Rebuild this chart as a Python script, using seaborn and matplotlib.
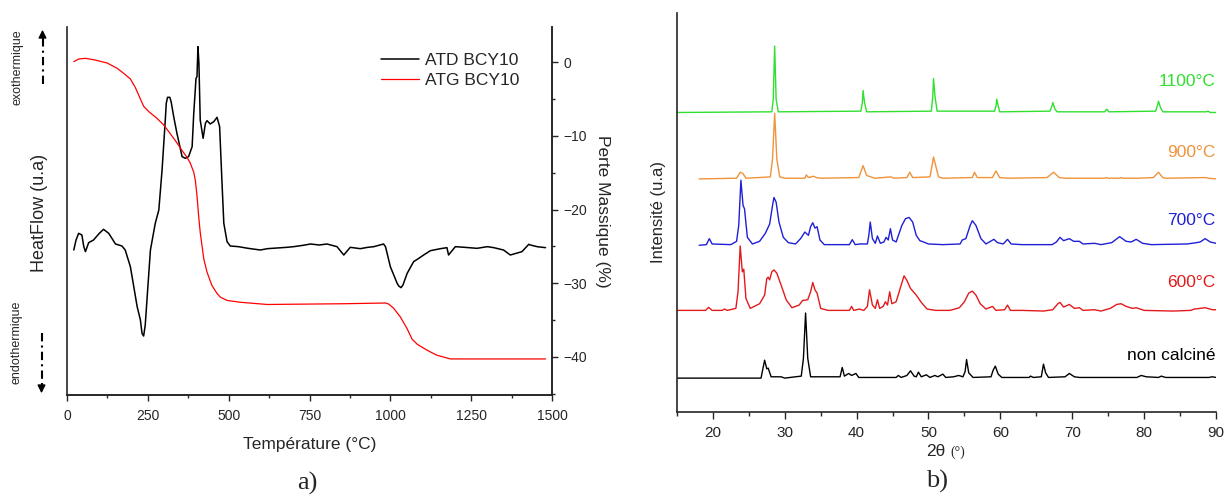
import numpy as np
import pandas as pd
import matplotlib
matplotlib.use("Agg")
import matplotlib.pyplot as plt
from matplotlib.lines import Line2D
from matplotlib.ticker import MultipleLocator
import seaborn as sns

# ---- a) ATD / ATG -------------------------------------------------------
atd_T = [21, 28, 36, 46, 52, 57, 67, 82, 100, 113, 129, 150, 170, 180, 196, 217, 227, 232,
         237, 242, 248, 258, 273, 284, 294, 304, 307, 311, 318, 322, 330, 340, 356, 366, 376,
         387, 392, 399, 402, 405, 408, 412, 421, 428, 433, 443, 454, 464, 472, 479, 485, 495,
         505, 530, 560, 598, 620, 650, 680, 701, 730, 753, 780, 804, 835, 856, 876, 907, 930,
         949, 979, 985, 1000, 1021, 1026, 1033, 1039, 1052, 1072, 1088, 1103, 1124, 1155,
         1175, 1180, 1201, 1230, 1268, 1300, 1320, 1350, 1371, 1407, 1428, 1433, 1454, 1480]
atd_h = [-0.10, 0.20, 0.40, 0.35, 0.00, -0.15, 0.12, 0.20, 0.40, 0.52, 0.40, 0.08, 0.02,
         -0.10, -0.60, -1.80, -2.20, -2.60, -2.68, -2.35, -1.50, -0.10, 0.70, 1.10, 2.30,
         3.80, 4.30, 4.48, 4.48, 4.35, 3.90, 3.40, 2.70, 2.65, 2.70, 3.00, 4.00, 5.05, 5.10,
         6.00, 5.50, 3.80, 3.25, 3.70, 3.78, 3.68, 3.75, 3.88, 3.60, 2.00, 0.70, 0.15, 0.02,
         0.00, -0.05, -0.10, -0.06, -0.04, -0.02, 0.00, 0.04, 0.08, 0.05, 0.08, 0.00, -0.25,
         -0.02, -0.06, -0.02, 0.00, 0.08, 0.00, -0.60, -1.10, -1.18, -1.23, -1.15, -0.80,
         -0.45, -0.35, -0.25, -0.12, -0.06, -0.03, -0.25, 0.00, -0.02, -0.05, 0.00, -0.03,
         -0.10, -0.25, -0.15, 0.07, 0.05, 0.00, -0.03]

atg_T = [21, 36, 57, 82, 124, 155, 175, 196, 211, 227, 237, 253, 278, 299, 320, 340, 356,
         371, 381, 392, 397, 402, 407, 412, 423, 433, 448, 464, 474, 495, 536, 619, 856, 985,
         995, 1010, 1031, 1052, 1067, 1083, 1113, 1144, 1186, 1480]
atg_m = [0.09, 0.45, 0.54, 0.36, -0.09, -0.81, -1.49, -2.26, -3.39, -4.98, -5.97, -6.70,
         -7.60, -8.51, -9.73, -10.95, -11.99, -12.90, -13.67, -14.93, -16.06, -18.1, -20.8,
         -23.1, -26.7, -28.5, -30.3, -31.4, -31.9, -32.35, -32.6, -32.9, -32.8, -32.7, -32.85,
         -33.4, -34.6, -36.2, -37.6, -38.3, -39.1, -39.8, -40.3, -40.3]

# ---- b) DRX -------------------------------------------------------------
labels = ["non calciné", "600°C", "700°C", "900°C", "1100°C"]
colors = ["black", "#e31a1c", "#1f1fd6", "#f0933a", "#2fe02f"]

tt_nc = [15, 26.7, 27.2, 27.5, 27.7, 28.1, 29.5, 30, 31.5, 32.3, 32.6, 32.9, 33.2, 33.6, 37.7,
         38.0, 38.3, 38.9, 39.3, 39.9, 40.3, 45.5, 45.8, 46.2, 47.0, 47.5, 48.0, 48.3, 48.6,
         49.0, 49.7, 50.2, 50.9, 51.3, 52.0, 52.4, 53.5, 54.2, 54.8, 55.1, 55.3, 55.6, 56.2,
         58.7, 59.0, 59.3, 59.7, 60.2, 64.0, 64.2, 64.6, 65.7, 66.0, 66.3, 66.7, 69.0, 69.6,
         70.3, 71, 79, 79.6, 80.3, 82.0, 82.4, 83, 89, 89.5, 90]
I_nc = [0, 0, 0.27, 0.14, 0.15, 0.02, 0.02, 0, 0.02, 0.03, 0.3, 0.98, 0.3, 0.02, 0.02,
        0.16, 0.03, 0.07, 0.04, 0.07, 0.01, 0.01, 0.04, 0.01, 0.04, 0.11, 0.03, 0.02, 0.09,
        0.02, 0.05, 0.01, 0.04, 0.02, 0.06, 0.01, 0.02, 0.04, 0.02, 0.1, 0.28, 0.08, 0.01,
        0.02, 0.12, 0.18, 0.06, 0.01, 0.01, 0.03, 0.01, 0.02, 0.21, 0.08, 0.01, 0.02, 0.07,
        0.02, 0.01, 0.01, 0.04, 0.02, 0.01, 0.03, 0.01, 0.01, 0.02, 0.01]

tt_600 = [15, 19.0, 19.4, 19.9, 21.3, 21.6, 22.0, 23.2, 23.5, 23.8, 24.1, 24.3, 24.6, 25.2,
          26.5, 27.2, 27.5, 27.7, 27.9, 28.2, 28.5, 28.9, 29.5, 30.2, 31, 32, 32.5, 33.2, 33.6,
          33.9, 34.2, 34.5, 35.0, 36, 39.0, 39.3, 39.6, 40.4, 41, 41.5, 41.8, 42.2, 42.6, 42.9,
          43.2, 43.7, 44.0, 44.3, 44.6, 44.9, 45.5, 46.2, 46.6, 47.0, 47.5, 48.3, 49.0, 49.8,
          51, 53, 54.3, 55.0, 55.6, 56.1, 56.6, 57.2, 58, 58.9, 59.4, 60.6, 61.0, 61.4, 63,
          66, 67.3, 68.0, 68.3, 68.8, 69.6, 70.3, 71.0, 71.5, 73.1, 74, 75.3, 76.2, 76.8, 77.5,
          78.4, 78.9, 80, 84, 86.5, 87, 88.5, 89.5, 90]
I_600 = [0.02, 0.02, 0.065, 0.02, 0.02, 0.04, 0.02, 0.05, 0.3, 0.99, 0.6, 0.64, 0.2, 0.05,
         0.12, 0.25, 0.5, 0.52, 0.48, 0.6, 0.63, 0.58, 0.4, 0.18, 0.06, 0.1, 0.17, 0.18, 0.3,
         0.44, 0.33, 0.28, 0.05, 0.02, 0.02, 0.08, 0.02, 0.04, 0.02, 0.08, 0.33, 0.1, 0.05,
         0.18, 0.05, 0.08, 0.15, 0.1, 0.3, 0.12, 0.15, 0.4, 0.54, 0.47, 0.35, 0.25, 0.14, 0.04,
         0.02, 0.02, 0.06, 0.15, 0.28, 0.31, 0.25, 0.12, 0.04, 0.08, 0.02, 0.03, 0.1, 0.02,
         0.02, 0.01, 0.03, 0.12, 0.14, 0.07, 0.11, 0.05, 0.06, 0.02, 0.03, 0.01, 0.05, 0.11,
         0.12, 0.08, 0.05, 0.06, 0.02, 0.01, 0.02, 0.04, 0.06, 0.03, 0.03]

tt_700 = [18.1, 19.1, 19.5, 19.9, 22.5, 23.3, 23.6, 23.9, 24.2, 24.4, 24.8, 25.5, 26.5, 27.3,
          27.9, 28.3, 28.5, 28.8, 29.2, 29.8, 30.5, 31.5, 32.2, 32.8, 33.3, 33.6, 33.9, 34.2,
          34.5, 34.9, 35.5, 39.0, 39.4, 39.8, 40.5, 41.5, 41.7, 41.9, 42.2, 42.6, 42.9, 43.3,
          43.8, 44.1, 44.4, 44.7, 45.0, 45.5, 46.3, 46.8, 47.3, 47.8, 48.3, 48.8, 49.3, 50, 52,
          54.4, 54.7, 55.2, 55.8, 56.1, 56.6, 57.3, 58, 59.1, 59.6, 60.4, 61.0, 61.5, 63, 67.2,
          67.8, 68.3, 68.8, 69.6, 70.2, 71.0, 71.5, 73.1, 74, 75.5, 76.6, 77.5, 78.2, 78.9,
          79.8, 81, 86, 87.3, 87.8, 88.5, 89.2, 90]
I_700 = [0, 0.01, 0.1, 0.02, 0.01, 0.06, 0.3, 0.98, 0.6, 0.55, 0.12, 0.02, 0.06, 0.18, 0.32,
         0.6, 0.72, 0.65, 0.35, 0.12, 0.04, 0.02, 0.1, 0.2, 0.15, 0.28, 0.34, 0.26, 0.28, 0.08,
         0.01, 0.01, 0.085, 0.01, 0.02, 0.02, 0.15, 0.35, 0.1, 0.03, 0.14, 0.03, 0.05, 0.12,
         0.08, 0.25, 0.08, 0.05, 0.3, 0.4, 0.42, 0.35, 0.15, 0.07, 0.05, 0.02, 0.01, 0.02,
         0.08, 0.1, 0.3, 0.37, 0.3, 0.1, 0.02, 0.09, 0.04, 0.02, 0.09, 0.02, 0.01, 0.01, 0.05,
         0.12, 0.07, 0.1, 0.06, 0.06, 0.02, 0.03, 0.01, 0.04, 0.13, 0.06, 0.05, 0.09, 0.03,
         0.01, 0.02, 0.04, 0.05, 0.1, 0.05, 0.03]

tt_900 = [18.1, 23.3, 23.8, 24.2, 24.6, 28.0, 28.3, 28.6, 28.9, 29.3, 30, 32.8, 33.0, 33.3,
          34.0, 34.4, 35, 40.3, 40.9, 41.4, 42.0, 42.5, 44.8, 45.2, 47.0, 47.4, 47.8, 50.2,
          50.5, 50.7, 51.0, 51.4, 52, 56.1, 56.4, 56.8, 58.9, 59.4, 59.9, 61, 66.5, 67.4, 68.2,
          69, 74.5, 74.7, 75.0, 76.6, 76.8, 77, 79.2, 81.3, 82.0, 82.6, 83, 88.5, 89, 90]
I_900 = [0, 0.01, 0.1, 0.08, 0.01, 0.03, 0.3, 0.99, 0.3, 0.03, 0.01, 0.01, 0.06, 0.02, 0.04,
         0.02, 0.01, 0.02, 0.2, 0.05, 0.03, 0.01, 0.03, 0.01, 0.02, 0.1, 0.02, 0.03, 0.2, 0.33,
         0.2, 0.03, 0.01, 0.02, 0.1, 0.02, 0.02, 0.12, 0.02, 0.01, 0.02, 0.1, 0.02, 0.01, 0.01,
         0.02, 0.01, 0.01, 0.02, 0.01, 0.01, 0.02, 0.1, 0.02, 0.01, 0.02, 0.01, 0]

tt_1100 = [15, 28.2, 28.4, 28.6, 28.8, 29.1, 40.6, 40.8, 40.9, 41.1, 41.4, 50.4, 50.6, 50.7,
           50.9, 51.2, 59.2, 59.4, 59.5, 59.7, 59.9, 66.9, 67.2, 67.3, 67.6, 67.9, 74.5, 74.8,
           75.1, 81.6, 81.9, 82.0, 82.3, 82.6, 88.6, 88.9, 89.2, 90]
I_1100 = [0, 0.01, 0.2, 1.0, 0.2, 0.01, 0.02, 0.15, 0.33, 0.15, 0.01, 0.02, 0.25, 0.51, 0.25,
          0.02, 0.02, 0.1, 0.2, 0.1, 0.01, 0.02, 0.1, 0.15, 0.05, 0.01, 0.01, 0.05, 0.01, 0.02,
          0.12, 0.17, 0.07, 0.01, 0.01, 0.02, 0, 0]

sns.set_style("ticks")
plt.rcParams["font.family"] = ["Liberation Sans", "DejaVu Sans"]

fig = plt.figure(figsize=(12.27, 4.95), dpi=100)

# ---------- panel a ----------
ax1 = fig.add_axes([0.0546, 0.202, 0.3953, 0.7435])
ax2 = ax1.twinx()

df_atd = pd.DataFrame({"T": atd_T, "h": atd_h})
df_atg = pd.DataFrame({"T": atg_T, "m": atg_m})
sns.lineplot(data=df_atd, x="T", y="h", ax=ax1, color="black", lw=1.1, sort=False,
             estimator=None, label="ATD BCY10", legend=False)
sns.lineplot(data=df_atg, x="T", y="m", ax=ax2, color="red", lw=0.9, sort=False,
             estimator=None, label="ATG BCY10", legend=False)

ax1.set_xlim(0, 1500)
ax1.set_ylim(-4.45, 6.59)
ax2.set_ylim(-45.2, 4.8)
ax1.set_yticks([])
ax1.set_ylabel("")
ax1.set_xlabel("Température (°C)", fontsize=12.5, labelpad=10)
ax1.xaxis.set_major_locator(MultipleLocator(250))
ax1.xaxis.set_minor_locator(MultipleLocator(125))
ax1.tick_params(axis="x", which="major", length=4, width=1, labelsize=10, pad=6)
ax1.tick_params(axis="x", which="minor", length=2.5, width=1)
ax2.yaxis.set_major_locator(MultipleLocator(10))
ax2.yaxis.set_minor_locator(MultipleLocator(5))
ax2.tick_params(axis="y", which="major", length=4, width=1, labelsize=10, pad=4)
ax2.tick_params(axis="y", which="minor", length=2.5, width=1)
ax2.set_ylabel("Perte Massique (%)", fontsize=12.5, rotation=270, labelpad=17)
ax2.set_xlabel("")
for a in (ax1, ax2):
    a.spines["top"].set_visible(False)
    for s in ("left", "right", "bottom"):
        a.spines[s].set_linewidth(1.2)
ax2.spines["left"].set_visible(False)
ax1.spines["right"].set_visible(True)

h1, l1 = ax1.get_legend_handles_labels()
h2, l2 = ax2.get_legend_handles_labels()
ax2.legend(h1 + h2, l1 + l2, loc="upper left", bbox_to_anchor=(369 / 1227, 1 - 41 / 495),
           bbox_transform=fig.transFigure, frameon=False, fontsize=12.5, handlelength=2.2,
           handletextpad=0.35, labelspacing=0.25, borderpad=0.2)

fig.text(40 / 1227, 1 - 213 / 495, "HeatFlow (u.a)", rotation=90, ha="center", va="center",
         fontsize=13)
fig.text(18 / 1227, 1 - 67 / 495, "exothermique", rotation=90, ha="center", va="center",
         fontsize=9)
fig.text(17 / 1227, 1 - 342 / 495, "endothermique", rotation=90, ha="center", va="center",
         fontsize=9)
# dash-dot arrows
fig.add_artist(Line2D([42.5 / 1227, 42.5 / 1227], [1 - 84 / 495, 1 - 36 / 495],
                      transform=fig.transFigure, color="black", lw=1.5, ls=(0, (4, 2, 1, 2))))
fig.add_artist(Line2D([41.5 / 1227, 41.5 / 1227], [1 - 333 / 495, 1 - 386 / 495],
                      transform=fig.transFigure, color="black", lw=1.5, ls=(0, (4, 2, 1, 2))))
ax1.annotate("", xy=(42.5, 495 - 27), xytext=(42.5, 495 - 38), xycoords="figure pixels",
             textcoords="figure pixels",
             arrowprops=dict(arrowstyle="-|>", color="black", lw=1, mutation_scale=12))
ax1.annotate("", xy=(41.5, 495 - 396), xytext=(41.5, 495 - 384), xycoords="figure pixels",
             textcoords="figure pixels",
             arrowprops=dict(arrowstyle="-|>", color="black", lw=1, mutation_scale=12))
fig.text(307 / 1227, 1 - 483 / 495, "a)", ha="center", va="center", fontsize=19,
         family="Liberation Serif")

# ---------- panel b ----------
ax3 = fig.add_axes([0.5517, 0.1677, 0.4393, 0.8063])
tts = [tt_nc, tt_600, tt_700, tt_900, tt_1100]
Is = [I_nc, I_600, I_700, I_900, I_1100]
label_dy = [0.34, 0.44, 0.38, 0.39, 0.46]
for k, (tt, I, c, lab) in enumerate(zip(tts, Is, colors, labels)):
    d = pd.DataFrame({"tt": tt, "I": np.array(I) + k})
    sns.lineplot(data=d, x="tt", y="I", ax=ax3, color=c, lw=1.0, sort=False,
                 estimator=None, legend=False)
    ax3.text(89.9, k + label_dy[k], lab, color=c, ha="right", va="center", fontsize=12.5)

ax3.set_xlim(15, 90)
ax3.set_ylim(-0.51, 5.5)
ax3.set_yticks([])
ax3.set_xlabel("")
ax3.set_ylabel("Intensité (u.a)", fontsize=12, labelpad=8)
ax3.xaxis.set_major_locator(MultipleLocator(10))
ax3.xaxis.set_minor_locator(MultipleLocator(5))
ax3.tick_params(axis="x", which="major", length=5, width=1, labelsize=11, pad=5)
ax3.tick_params(axis="x", which="minor", length=3, width=1)
ax3.spines["top"].set_visible(False)
ax3.spines["right"].set_visible(False)
ax3.spines["left"].set_linewidth(1.2)
ax3.spines["bottom"].set_linewidth(1.2)

fig.text(936 / 1227, 1 - 451 / 495, "2θ", ha="center", va="center", fontsize=12.5)
fig.text(950 / 1227, 1 - 452 / 495, "(°)", ha="left", va="center", fontsize=10,
         family="Liberation Serif")
fig.text(937 / 1227, 1 - 481 / 495, "b)", ha="center", va="center", fontsize=19,
         family="Liberation Serif")

fig.savefig("out.png", dpi=100)
